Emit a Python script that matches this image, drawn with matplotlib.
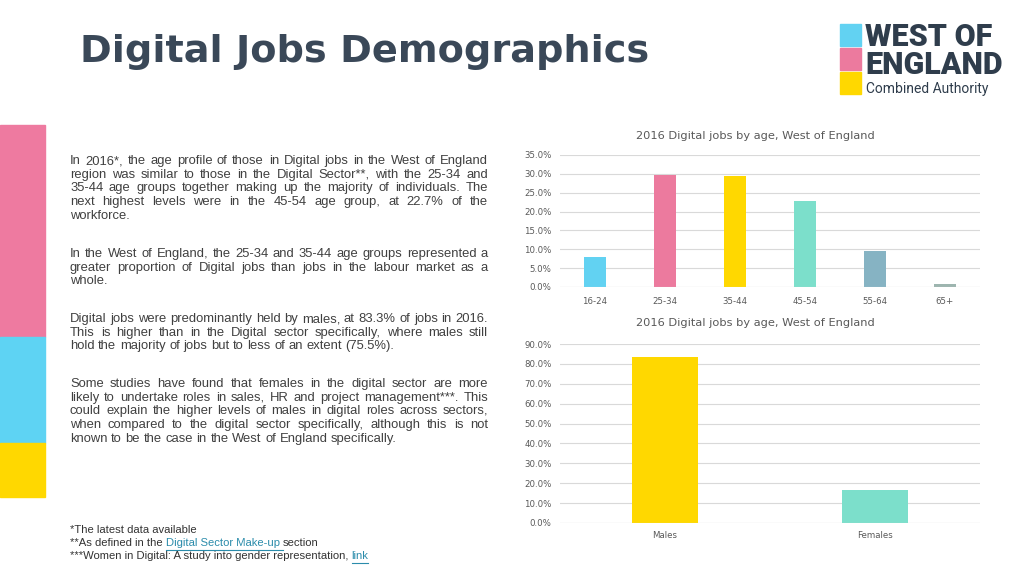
import matplotlib
matplotlib.use('Agg')
import matplotlib.pyplot as plt
from matplotlib.patches import Rectangle

# data
age_groups = ['16-24', '25-34', '35-44', '45-54', '55-64', '65+']
age_share = [7.9, 29.7, 29.3, 22.7, 9.6, 0.8]
age_colors = ['#62D2F2', '#EC7A9E', '#FFD800', '#7CDFCB', '#86B3C3', '#9DB5AF']
age_ticks = [0, 5, 10, 15, 20, 25, 30, 35]

genders = ['Males', 'Females']
gender_share = [83.3, 16.7]
gender_colors = ['#FFD800', '#7CDFCB']
gender_ticks = [0, 10, 20, 30, 40, 50, 60, 70, 80, 90]

chart_title = '2016 Digital jobs by age, West of England'

para1 = ['In 2016*, the age profile of those in Digital jobs in the West of England',
         'region was similar to those in the Digital Sector**, with the 25-34 and',
         '35-44 age groups together making up the majority of individuals. The',
         'next highest levels were in the 45-54 age group, at 22.7% of the',
         'workforce.']
para2 = ['In the West of England, the 25-34 and 35-44 age groups represented a',
         'greater proportion of Digital jobs than jobs in the labour market as a',
         'whole.']
para3 = ['Digital jobs were predominantly held by males, at 83.3% of jobs in 2016.',
         'This is higher than in the Digital sector specifically, where males still',
         'hold the majority of jobs but to less of an extent (75.5%).']
para4 = ['Some studies have found that females in the digital sector are more',
         'likely to undertake roles in sales, HR and project management***. This',
         'could explain the higher levels of males in digital roles across sectors,',
         'when compared to the digital sector specifically, although this is not',
         'known to be the case in the West of England specifically.']

W, H = 1024, 576
fig = plt.figure(figsize=(W / 100, H / 100), dpi=100)
fig.patch.set_facecolor('white')
body_font = 'Liberation Sans'
txt_col = '#404040'
r = fig.canvas.get_renderer()


def px(x, y):
    return x / W, 1 - y / H


def text_w(s, size):
    t = fig.text(0, 0, s, fontsize=size, family=body_font)
    w = t.get_window_extent(r).width
    t.remove()
    return w


def justify(lines, x0, y0, width, step, size):
    sp_nat = text_w('a a', size) - 2 * text_w('a', size)
    for i, line in enumerate(lines):
        y = y0 + i * step
        words = line.split(' ')
        objs = [fig.text(0, 0, w, fontsize=size, family=body_font, color=txt_col,
                         va='center', ha='left') for w in words]
        widths = [o.get_window_extent(r).width for o in objs]
        if i == len(lines) - 1 or len(words) == 1:
            sp = sp_nat
        else:
            sp = (width - sum(widths)) / (len(words) - 1)
        xx = x0
        for o, w in zip(objs, widths):
            o.set_position(px(xx, y))
            xx += w + sp


# pick body size so the widest full line just fits the column
full_lines = [l for p in (para1, para2, para3, para4) for l in p[:-1]]
widest = max(text_w(l, 10) for l in full_lines)
body_size = 10 * 416 / widest

# left colour strips
for y0, y1, c in [(125, 337, '#EE7AA0'), (337, 443, '#5ED3F3'), (443, 497, '#FFD800')]:
    fig.patches.append(Rectangle(px(0, y1), 45 / W, (y1 - y0) / H, color=c,
                                 transform=fig.transFigure, figure=fig))

# title
fig.text(*px(80, 52), 'Digital Jobs Demographics', fontsize=27.5, fontweight='bold',
         family='DejaVu Sans', color='#3A4858', va='center', ha='left')

# logo
for y0, c in [(24, '#62D2F2'), (48, '#EC7A9E'), (72, '#FFD800')]:
    fig.patches.append(Rectangle(px(840, y0 + 22), 21 / W, 22 / H, color=c,
                                 transform=fig.transFigure, figure=fig))
fig.text(*px(865, 37), 'WEST OF', fontsize=22, fontweight='black', family='Roboto',
         color='#2F3D4C', va='center', ha='left')
fig.text(*px(865, 65), 'ENGLAND', fontsize=22, fontweight='black', family='Roboto',
         color='#2F3D4C', va='center', ha='left')
fig.text(*px(866, 89), 'Combined Authority', fontsize=10, family='Roboto',
         color='#2F3D4C', va='center', ha='left')

# body text
justify(para1, 70, 161, 418, 13.7, body_size)
justify(para2, 70, 254, 418, 13.7, body_size)
justify(para3, 70, 319, 418, 13.7, body_size)
justify(para4, 70, 384, 418, 13.7, body_size)

# footnotes
fs = 8.1
fig.text(*px(70, 530), '*The latest data available', fontsize=fs, family=body_font,
         color='#333333', va='center')
t1 = fig.text(*px(70, 543), '**As defined in the ', fontsize=fs, family=body_font,
              color='#333333', va='center')
t2 = fig.text(*px(70, 556), '***Women in Digital: A study into gender representation, ',
              fontsize=fs, family=body_font, color='#333333', va='center')
x1 = 70 + t1.get_window_extent(r).width
l1 = fig.text(*px(x1, 543), 'Digital Sector Make-up ', fontsize=fs, family=body_font,
              color='#2B8CAB', va='center')
x2 = x1 + l1.get_window_extent(r).width
fig.text(*px(x2, 543), 'section', fontsize=fs, family=body_font, color='#333333', va='center')
x3 = 70 + t2.get_window_extent(r).width
l2 = fig.text(*px(x3, 556), 'link', fontsize=fs, family=body_font, color='#2B8CAB', va='center')
for lk, yy in [(l1, 550), (l2, 563)]:
    bb = lk.get_window_extent(r)
    fig.lines.append(plt.Line2D([bb.x0 / W, bb.x1 / W], [1 - yy / H] * 2,
                                color='#2B8CAB', lw=0.8, transform=fig.transFigure))


def style(ax, ticks, ymax):
    ax.set_ylim(0, ymax)
    ax.set_yticks(ticks)
    ax.set_yticklabels(['%.1f%%' % t for t in ticks], fontsize=6.2, color='#595959',
                       family='DejaVu Sans')
    ax.tick_params(axis='both', length=0, pad=6)
    for s in ax.spines.values():
        s.set_visible(False)
    ax.grid(axis='y', color='#D9D9D9', lw=0.8)
    ax.set_axisbelow(True)
    ax.axhline(0, color='#D9D9D9', lw=0.8)
    for lab in ax.get_xticklabels():
        lab.set_fontsize(6.2)
        lab.set_color('#595959')


# age chart
ax1 = fig.add_axes([560 / W, 1 - 287 / H, 420 / W, 132 / H])
ax1.bar(range(len(age_groups)), age_share, width=0.31, color=age_colors)
ax1.set_xlim(-0.5, len(age_groups) - 0.5)
ax1.set_xticks(range(len(age_groups)))
ax1.set_xticklabels(age_groups)
style(ax1, age_ticks, 35)
ax1.tick_params(axis='x', pad=7)
fig.text(*px(755, 136), chart_title, fontsize=8.2, color='#595959', family='DejaVu Sans',
         ha='center', va='center')

# gender chart
ax2 = fig.add_axes([560 / W, 1 - 523 / H, 420 / W, 179 / H])
ax2.bar(range(len(genders)), gender_share, width=0.31, color=gender_colors)
ax2.set_xlim(-0.5, len(genders) - 0.5)
ax2.set_xticks(range(len(genders)))
ax2.set_xticklabels(genders)
style(ax2, gender_ticks, 90)
ax2.tick_params(axis='x', pad=6)
fig.text(*px(755, 323), chart_title, fontsize=8.2, color='#595959', family='DejaVu Sans',
         ha='center', va='center')

fig.savefig('out.png', dpi=100)
